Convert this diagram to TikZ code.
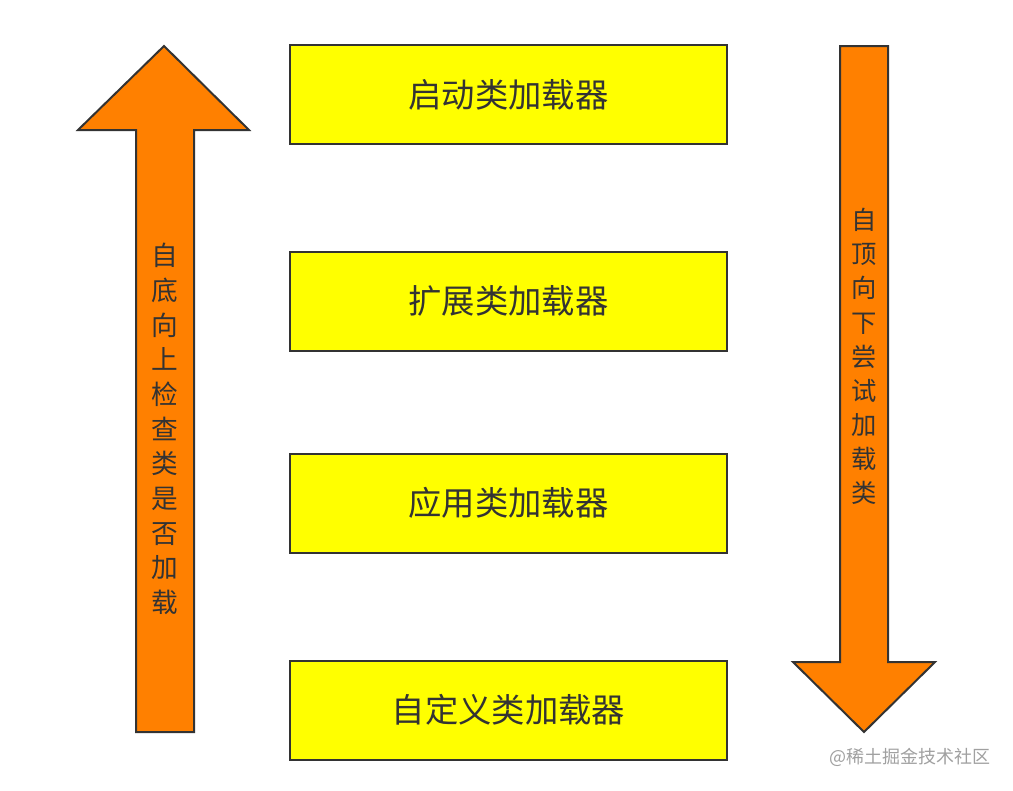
\documentclass[tikz,border=0pt]{standalone}
\usepackage{fontspec}
\newfontfamily\cjk{Noto Sans CJK SC}
\definecolor{boxyellow}{HTML}{FFFF00}
\definecolor{arroworange}{HTML}{FF8000}
\definecolor{edge}{HTML}{333333}
\definecolor{inktext}{HTML}{333333}
\definecolor{mark}{HTML}{A0A0A0}
\tikzset{
  loaderbox/.style={draw=edge, line width=1.5pt, fill=boxyellow, minimum width=437*0.75pt, minimum height=99*0.75pt, inner sep=0pt, font=\cjk\fontsize{25pt}{28pt}\selectfont, text=inktext},
  bigarrow/.style={draw=edge, line width=1.5pt, fill=arroworange, line join=miter},
  vlabel/.style={align=center, inner sep=0pt, text=inktext},
}
\begin{document}
\begin{tikzpicture}[x=0.75pt, y=-0.75pt]
\useasboundingbox (0,0) rectangle (1013,790);
% left arrow (up)
\draw[bigarrow] (164,46) -- (249,130) -- (194,130) -- (194,732) -- (136,732) -- (136,130) -- (78,130) -- cycle;
% right arrow (down)
\draw[bigarrow] (840,46) -- (888,46) -- (888,662) -- (935,662) -- (864,732) -- (793,662) -- (840,662) -- cycle;
% boxes
\node[loaderbox] (b1) at (508.5,94.5) {启动类加载器};
\node[loaderbox] (b2) at (508.5,301) {扩展类加载器};
\node[loaderbox] (b3) at (508.5,503) {应用类加载器};
\node[loaderbox] (b4) at (508.5,710) {自定义类加载器};
% vertical labels
\node[vlabel, font=\cjk\fontsize{20pt}{26pt}\selectfont] (lup) at (165,429) {自\\底\\向\\上\\检\\查\\类\\是\\否\\加\\载};
\node[vlabel, font=\cjk\fontsize{19pt}{25.6pt}\selectfont] (rdown) at (864,356.5) {自\\顶\\向\\下\\尝\\试\\加\\载\\类};
% watermark
\node[anchor=east, inner sep=0pt, text=mark, font=\cjk\fontsize{13.5pt}{16pt}\selectfont] (wm) at (991,757) {@稀土掘金技术社区};
\end{tikzpicture}
\end{document}
